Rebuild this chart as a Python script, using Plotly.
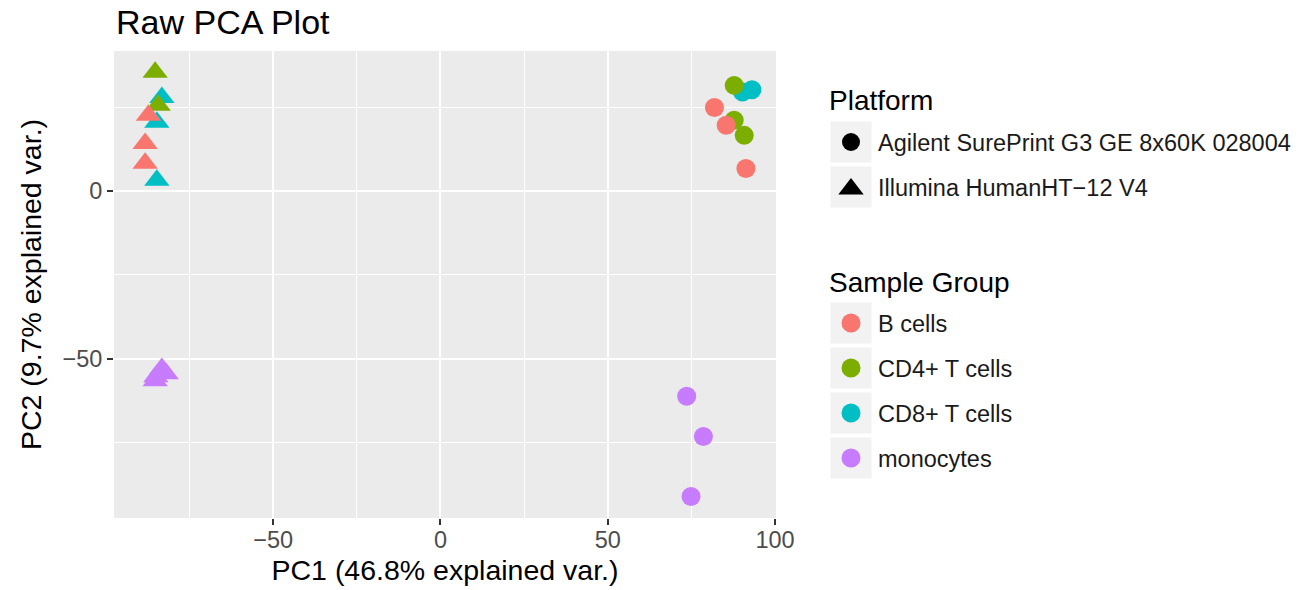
import plotly.graph_objects as go

# ---------------- data ----------------
groups = ["B cells", "CD4+ T cells", "CD8+ T cells", "monocytes"]
group_colors = ["#F8766D", "#7CAE00", "#00BFC4", "#C77CFF"]
platforms = ["Agilent SurePrint G3 GE 8x60K 028004", "Illumina HumanHT\u221212 V4"]
platform_symbols = ["circle", "triangle-up"]

# Agilent platform (circles)
agilent_b_pc1 = [81.9, 85.4, 91.3]
agilent_b_pc2 = [24.9, 19.6, 6.7]
agilent_cd4_pc1 = [87.8, 87.8, 90.8]
agilent_cd4_pc2 = [31.5, 21.1, 16.6]
agilent_cd8_pc1 = [90.3, 93.1]
agilent_cd8_pc2 = [29.5, 30.2]
agilent_mono_pc1 = [73.6, 78.6, 74.9]
agilent_mono_pc2 = [-61.2, -73.2, -91.1]

# Illumina platform (triangles)
illumina_b_pc1 = [-87.3, -88.3, -88.3]
illumina_b_pc2 = [22.6, 14.2, 8.3]
illumina_cd4_pc1 = [-85.3, -84.4]
illumina_cd4_pc2 = [35.4, 25.6]
illumina_cd8_pc1 = [-83.3, -84.8, -84.8]
illumina_cd8_pc2 = [27.9, 20.5, 3.2]
illumina_mono_pc1 = [-83.3, -82.0, -85.1, -85.3]
illumina_mono_pc2 = [-52.9, -54.5, -55.4, -56.6]

title_text = "Raw PCA Plot"
x_title = "PC1 (46.8% explained var.)"
y_title = "PC2 (9.7% explained var.)"
platform_title = "Platform"
group_title = "Sample Group"

# ---------------- layout constants (pixels) ----------------
W, H = 1307, 590
PL, PR, PT, PB = 114, 776, 51, 518
FONT = "Liberation Sans, Arial, Helvetica, sans-serif"
CIRCLE_SIZE = 19
TRI_SIZE = 22
TICK_FS = 23.5
AXTITLE_FS = 28.5
LEG_TITLE_FS = 28
LEG_TEXT_FS = 23.5
TITLE_FS = 34

data_by_group = {
    "B cells": (agilent_b_pc1, agilent_b_pc2, illumina_b_pc1, illumina_b_pc2),
    "CD4+ T cells": (agilent_cd4_pc1, agilent_cd4_pc2, illumina_cd4_pc1, illumina_cd4_pc2),
    "CD8+ T cells": (agilent_cd8_pc1, agilent_cd8_pc2, illumina_cd8_pc1, illumina_cd8_pc2),
    "monocytes": (agilent_mono_pc1, agilent_mono_pc2, illumina_mono_pc1, illumina_mono_pc2),
}

fig = go.Figure()

# draw order chosen so overlaps match the reference
draw_order = ["CD8+ T cells", "CD4+ T cells", "B cells", "monocytes"]
for g in draw_order:
    col = group_colors[groups.index(g)]
    ax, ay, ix, iy = data_by_group[g]
    xs = list(ax) + list(ix)
    ys = list(ay) + list(iy)
    syms = [platform_symbols[0]] * len(ax) + [platform_symbols[1]] * len(ix)
    sizes = [CIRCLE_SIZE] * len(ax) + [TRI_SIZE] * len(ix)
    fig.add_trace(go.Scatter(
        x=xs, y=ys, mode="markers", name=g, showlegend=False,
        marker=dict(color=col, symbol=syms, size=sizes, opacity=1, line=dict(width=0)),
        xaxis="x", yaxis="y",
    ))

# ---------------- manual ggplot-style legend on a pixel overlay axis ----------------
KEY_X = 851
KEY_BOX = 41
TEXT_X = 876
LEG_TITLE_X = 827
ITEM_STEP = 45
plat_title_y = 100
plat_first_y = 142
grp_title_y = 282
grp_first_y = 323

shapes = []
annotations = []

# panel background
shapes.append(dict(type="rect", xref="x domain", yref="y domain", x0=0, x1=1, y0=0, y1=1,
                   fillcolor="#EBEBEB", line=dict(width=0), layer="below"))

def key_box(cy):
    shapes.append(dict(type="rect", xref="x2", yref="y2",
                       x0=KEY_X - KEY_BOX / 2, x1=KEY_X + KEY_BOX / 2,
                       y0=cy - KEY_BOX / 2, y1=cy + KEY_BOX / 2,
                       fillcolor="#F2F2F2", line=dict(width=0), layer="below"))

annotations.append(dict(text=platform_title, xref="x2", yref="y2", x=LEG_TITLE_X, y=plat_title_y,
                        xanchor="left", yanchor="middle", showarrow=False,
                        font=dict(family=FONT, size=LEG_TITLE_FS, color="#000000")))
plat_y = [plat_first_y + i * ITEM_STEP for i in range(len(platforms))]
for i, p in enumerate(platforms):
    key_box(plat_y[i])
    annotations.append(dict(text=p, xref="x2", yref="y2", x=TEXT_X, y=plat_y[i] + 1,
                            xanchor="left", yanchor="middle", showarrow=False,
                            font=dict(family=FONT, size=LEG_TEXT_FS, color="#1A1A1A")))
fig.add_trace(go.Scatter(
    x=[KEY_X] * len(platforms), y=[plat_y[0], plat_y[1] + 2], mode="markers",
    marker=dict(color="#000000", symbol=platform_symbols, opacity=1,
                size=[CIRCLE_SIZE - 1, TRI_SIZE], line=dict(width=0)),
    xaxis="x2", yaxis="y2", showlegend=False, hoverinfo="skip",
))

annotations.append(dict(text=group_title, xref="x2", yref="y2", x=LEG_TITLE_X, y=grp_title_y,
                        xanchor="left", yanchor="middle", showarrow=False,
                        font=dict(family=FONT, size=LEG_TITLE_FS, color="#000000")))
grp_y = [grp_first_y + i * ITEM_STEP for i in range(len(groups))]
for i, g in enumerate(groups):
    key_box(grp_y[i])
    annotations.append(dict(text=g, xref="x2", yref="y2", x=TEXT_X, y=grp_y[i] + 1,
                            xanchor="left", yanchor="middle", showarrow=False,
                            font=dict(family=FONT, size=LEG_TEXT_FS, color="#1A1A1A")))
fig.add_trace(go.Scatter(
    x=[KEY_X] * len(groups), y=grp_y, mode="markers",
    marker=dict(color=group_colors, symbol="circle", size=CIRCLE_SIZE, opacity=1,
                line=dict(width=0)),
    xaxis="x2", yaxis="y2", showlegend=False, hoverinfo="skip",
))

# title
annotations.append(dict(text=title_text, xref="x2", yref="y2", x=PL, y=22,
                        xanchor="left", yanchor="middle", showarrow=False,
                        font=dict(family=FONT, size=TITLE_FS, color="#000000")))

axis_common = dict(
    showgrid=True, gridcolor="#FFFFFF", gridwidth=2.2,
    zeroline=False, showline=False, automargin=False,
    ticks="outside", ticklen=6, tickwidth=2, tickcolor="#333333",
    tickfont=dict(family=FONT, size=TICK_FS, color="#4D4D4D"),
    tickmode="linear", tick0=0, dtick=50,
    minor=dict(dtick=25, tick0=0, showgrid=True, gridcolor="#FFFFFF", gridwidth=1.1, ticks=""),
)

fig.update_layout(
    width=W, height=H,
    margin=dict(l=0, r=0, t=0, b=0, autoexpand=False),
    paper_bgcolor="#FFFFFF", plot_bgcolor="rgba(0,0,0,0)",
    showlegend=False,
    font=dict(family=FONT, color="#000000"),
    xaxis=dict(domain=[PL / W, PR / W], range=[-97.6, 100.3], anchor="y",
               ticklabelstandoff=-5,
               title=dict(text=x_title, font=dict(family=FONT, size=AXTITLE_FS, color="#000000"),
                          standoff=7),
               **axis_common),
    yaxis=dict(domain=[1 - PB / H, 1 - PT / H], range=[-97.5, 41.75], anchor="x",
               title=dict(text=y_title, font=dict(family=FONT, size=AXTITLE_FS, color="#000000"),
                          standoff=12),
               **axis_common),
    xaxis2=dict(domain=[0, 1], range=[0, W], visible=False, anchor="y2", fixedrange=True,
                automargin=False),
    yaxis2=dict(domain=[0, 1], range=[H, 0], visible=False, anchor="x2", fixedrange=True,
                automargin=False),
    shapes=shapes,
    annotations=annotations,
)

fig.write_html("out.html", config={"displayModeBar": False},
               post_script="document.body.style.margin='0';document.body.style.padding='0';")
